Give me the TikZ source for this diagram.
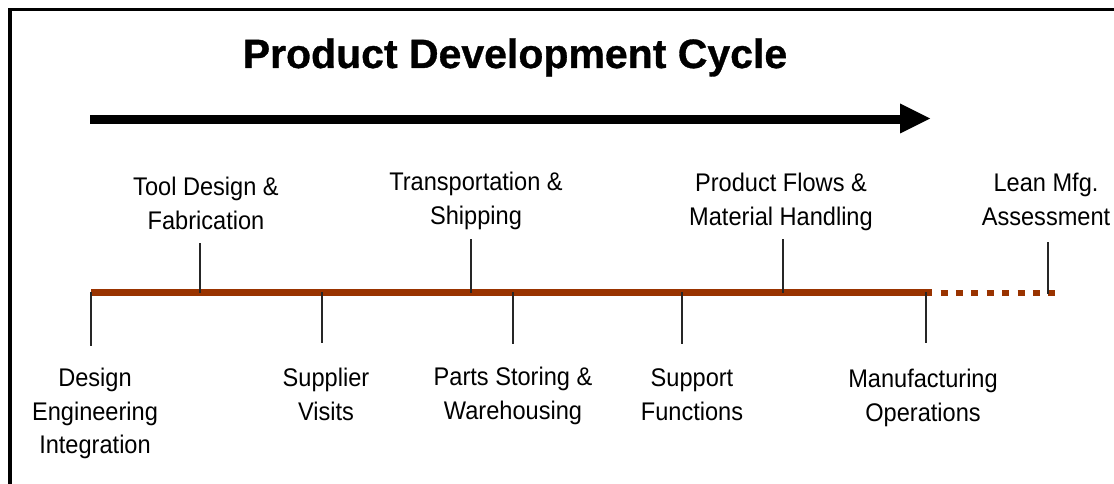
\documentclass[tikz,border=0pt]{standalone}
\usepackage{fontspec}
\setmainfont{Liberation Sans}
\newfontfamily\lblfont[FakeStretch=0.925]{Liberation Sans}
\newfontfamily\titlefont[FakeBold=0.8]{Liberation Sans Bold}
\begin{document}
\begin{tikzpicture}[x=1pt,y=-1pt,
  lbl/.style={align=center,inner sep=0pt,anchor=north,
    font=\lblfont\fontsize{25.5}{33.5}\selectfont},
  tick/.style={draw=black!85,line width=1.3pt},
  phase/.style={line width=6.4pt,draw={rgb,255:red,153;green,51;blue,0}}]
\useasboundingbox (0,0) rectangle (1114,484);
\fill[white] (0,0) rectangle (1114,484);

% outer frame (runs off the right and bottom edges)
\draw[line width=3.4pt] (1120,9.3) -- (10,9.3) -- (10,490);

% title and direction arrow
\node[anchor=base,inner sep=0pt,font=\titlefont\fontsize{41}{41}\selectfont] (title) at (515,68) {Product Development Cycle};
\coordinate (arrS) at (90,119.5);
\coordinate (arrE) at (901,119.5);
\draw[line width=9pt] (arrS) -- (arrE);
\fill (900,103.5) -- (930,118.5) -- (900,133.5) -- cycle;

% time line: solid, then dotted continuation
\coordinate (lineS) at (91,292.5);
\coordinate (lineE) at (932,292.5);
\coordinate (dotS) at (940.5,293);
\coordinate (dotE) at (1056,293);
\draw[phase] (lineS) -- (lineE);
\draw[phase,dash pattern=on 7pt off 8.4pt] (dotS) -- (dotE);

% labels above the line
\node[lbl] (tool) at (206,177) {Tool Design \&\\Fabrication};
\node[lbl] (trans) at (476,172) {Transportation \&\\Shipping};
\node[lbl] (flows) at (781,173) {Product Flows \&\\Material Handling};
\node[lbl] (lean) at (1046,173) {Lean Mfg.\\Assessment};

% labels below the line
\node[lbl] (design) at (95,368) {Design\\Engineering\\Integration};
\node[lbl] (supp) at (326,368) {Supplier\\Visits};
\node[lbl] (parts) at (513,367) {Parts Storing \&\\Warehousing};
\node[lbl] (support) at (692,368.5) {Support\\Functions};
\node[lbl] (manuf) at (923,369) {Manufacturing\\Operations};

% tick marks joining each label to the line
\coordinate (tTool) at (200,243);    \coordinate (bTool) at (200,293);
\coordinate (tTrans) at (471,239);   \coordinate (bTrans) at (471,293);
\coordinate (tFlows) at (783,239);   \coordinate (bFlows) at (783,293);
\coordinate (tLean) at (1048,242);   \coordinate (bLean) at (1048,294);
\coordinate (tDesign) at (91,292);   \coordinate (bDesign) at (91,346);
\coordinate (tSupp) at (322,292);    \coordinate (bSupp) at (322,343);
\coordinate (tParts) at (513,292);   \coordinate (bParts) at (513,344);
\coordinate (tSupport) at (682,292); \coordinate (bSupport) at (682,344);
\coordinate (tManuf) at (926,292);   \coordinate (bManuf) at (926,343);
\foreach \n in {Tool,Trans,Flows,Lean,Design,Supp,Parts,Support,Manuf}
  \draw[tick] (t\n) -- (b\n);
\end{tikzpicture}
\end{document}
